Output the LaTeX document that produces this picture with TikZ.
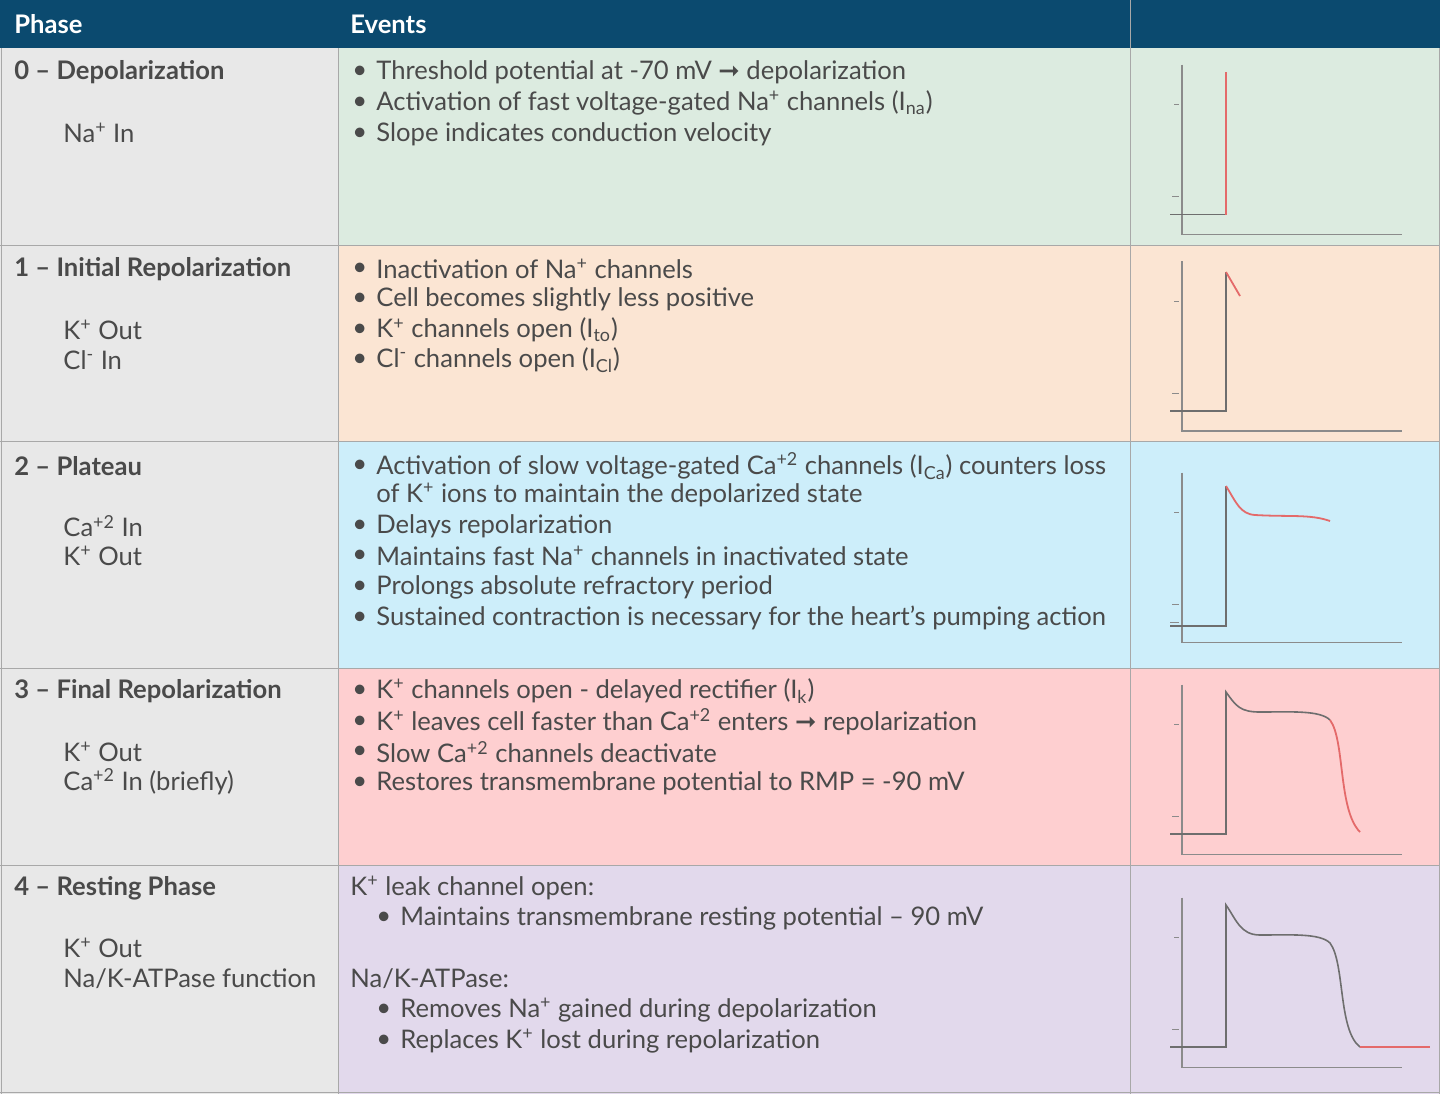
\documentclass[tikz,border=0pt]{standalone}
\usepackage{fontspec}
\setmainfont{Lato}
\newfontfamily\symf{DejaVu Sans}
\newcommand{\ar}{{\symf\char"279E}}
\newcommand{\su}[1]{\textsuperscript{#1}}
\newcommand{\sub}[1]{\textsubscript{#1}}
\definecolor{hdr}{HTML}{0B4A6F}
\definecolor{gcol}{HTML}{E8E8E8}
\definecolor{r0}{HTML}{DCEBE0}
\definecolor{r1}{HTML}{FBE5D3}
\definecolor{r2}{HTML}{CDEEFA}
\definecolor{r3}{HTML}{FECFD0}
\definecolor{r4}{HTML}{E2D9EC}
\definecolor{grid}{HTML}{A8A8A8}
\definecolor{txtc}{HTML}{4A4A4A}
\definecolor{trace}{HTML}{6E6E6E}
\definecolor{redt}{HTML}{E46A6A}
\tikzset{
 txt/.style={anchor=west,inner sep=0pt,text=txtc,font=\fontsize{12.8}{14}\selectfont},
 bold/.style={txt,font=\fontsize{12.8}{14}\selectfont\bfseries},
 head/.style={anchor=west,inner sep=0pt,text=white,font=\fontsize{12.8}{14}\selectfont\bfseries},
 ax/.style={draw=trace!80,line width=0.6pt},
 tr/.style={draw=trace,line width=0.8pt},
 rt/.style={draw=redt,line width=0.9pt},
}
\newcommand{\axes}[1]{%
 \draw[ax] (1182,#1-82) -- (1182,#1+88) -- (1402,#1+88);
 \draw[ax,line width=0.3pt] (1174,#1-42) -- (1179,#1-42);
 \draw[ax,line width=0.3pt] (1172,#1+50) -- (1179,#1+50);
 \draw[ax,line width=0.3pt] (1170,#1+68) -- (1179,#1+68);}
\newcommand{\bull}[3]{\node[txt] (#1b) at (352,#2) {•}; \node[txt] (#1) at (376,#2) {#3};}
\newcommand{\bulli}[3]{\node[txt] (#1b) at (376,#2) {•}; \node[txt] (#1) at (400,#2) {#3};}
\begin{document}
\begin{tikzpicture}[x=0.5pt,y=-0.5pt]
\useasboundingbox (0,0) rectangle (1440,1094);
% backgrounds
\fill[hdr] (0,0) rectangle (1440,48);
\fill[gcol] (0,48) rectangle (338,1094);
\fill[r0] (338,48) rectangle (1440,245);
\fill[r1] (338,245) rectangle (1440,441);
\fill[r2] (338,441) rectangle (1440,668);
\fill[r3] (338,668) rectangle (1440,865);
\fill[r4] (338,865) rectangle (1440,1094);
\foreach \y in {245,441,668,865} \draw[grid,line width=0.5pt] (0,\y) -- (1440,\y);
\draw[grid,line width=0.5pt] (338,48) -- (338,1094);
\draw[grid,line width=0.5pt] (1130,0) -- (1130,1094);
\draw[grid,line width=0.5pt] (0,1092) -- (1440,1092);
\draw[grid,line width=0.5pt] (1,48) -- (1,1094) (1439,48) -- (1439,1094);
% header
\node[head] (hp) at (14,24) {Phase};
\node[head] (he) at (350,24) {Events};
% phase column
\node[bold] (p0) at (14,72) {0 – Depolarization};
\node[txt] (p0a) at (63,133) {Na\su{+} In};
\node[bold] (p1) at (14,269) {1 – Initial Repolarization};
\node[txt] (p1a) at (63,330) {K\su{+} Out};
\node[txt] (p1b) at (63,360) {Cl\su{-} In};
\node[bold] (p2) at (14,466) {2 – Plateau};
\node[txt] (p2a) at (63,526) {Ca\su{+2} In};
\node[txt] (p2b) at (63,556) {K\su{+} Out};
\node[bold] (p3) at (14,691) {3 – Final Repolarization};
\node[txt] (p3a) at (63,752) {K\su{+} Out};
\node[txt] (p3b) at (63,782) {Ca\su{+2} In (briefly)};
\node[bold] (p4) at (14,888) {4 – Resting Phase};
\node[txt] (p4a) at (63,948) {K\su{+} Out};
\node[txt] (p4b) at (63,979) {Na/K-ATPase function};
% events
\bull{e01}{72}{Threshold potential at -70 mV \ar{} depolarization}
\bull{e02}{103}{Activation of fast voltage-gated Na\su{+} channels (I\sub{na})}
\bull{e03}{134}{Slope indicates conduction velocity}
\bull{e11}{269}{Inactivation of Na\su{+} channels}
\bull{e12}{299}{Cell becomes slightly less positive}
\bull{e13}{330}{K\su{+} channels open (I\sub{to})}
\bull{e14}{360}{Cl\su{-} channels open (I\sub{Cl})}
\bull{e21}{466}{Activation of slow voltage-gated Ca\su{+2} channels (I\sub{Ca}) counters loss}
\node[txt] (e21b2) at (376,495) {of K\su{+} ions to maintain the depolarized state};
\bull{e22}{526}{Delays repolarization}
\bull{e23}{556}{Maintains fast Na\su{+} channels in inactivated state}
\bull{e24}{587}{Prolongs absolute refractory period}
\bull{e25}{618}{Sustained contraction is necessary for the heart’s pumping action}
\bull{e31}{691}{K\su{+} channels open - delayed rectifier (I\sub{k})}
\bull{e32}{722}{K\su{+} leaves cell faster than Ca\su{+2} enters \ar{} repolarization}
\bull{e33}{752}{Slow Ca\su{+2} channels deactivate}
\bull{e34}{783}{Restores transmembrane potential to RMP = -90 mV}
\node[txt] (e40) at (350,888) {K\su{+} leak channel open:};
\bulli{e41}{918}{Maintains transmembrane resting potential – 90 mV}
\node[txt] (e42) at (350,979) {Na/K-ATPase:};
\bulli{e43}{1010}{Removes Na\su{+} gained during depolarization}
\bulli{e44}{1041}{Replaces K\su{+} lost during repolarization}
% graphs
\axes{146.5}
\draw[tr] (1170,214.5) -- (1226,214.5);
\draw[rt] (1226,214.5) -- (1226,71.5);
\axes{343}
\draw[tr] (1170,411) -- (1226,411) -- (1226,272);
\draw[rt] (1226,272) -- (1240,296);
\axes{554.5}
\draw[tr] (1170,626) -- (1226,626) -- (1226,486);
\draw[rt] (1226,486) .. controls (1236,502) and (1240,514) .. (1255,515) .. controls (1290,517) and (1310,514) .. (1330,521);
\axes{766.5}
\draw[tr] (1170,834) -- (1226,834) -- (1226,692) .. controls (1236,706) and (1240,712) .. (1260,712) .. controls (1290,712) and (1320,710) .. (1330,720);
\draw[rt] (1330,720) .. controls (1345,740) and (1338,810) .. (1360,832);
\axes{979.5}
\draw[tr] (1170,1047) -- (1226,1047) -- (1226,905) .. controls (1236,919) and (1240,935) .. (1260,935) .. controls (1290,935) and (1320,933) .. (1330,943) .. controls (1345,963) and (1338,1030) .. (1360,1047);
\draw[rt] (1360,1047) -- (1430,1047);
\end{tikzpicture}
\end{document}
